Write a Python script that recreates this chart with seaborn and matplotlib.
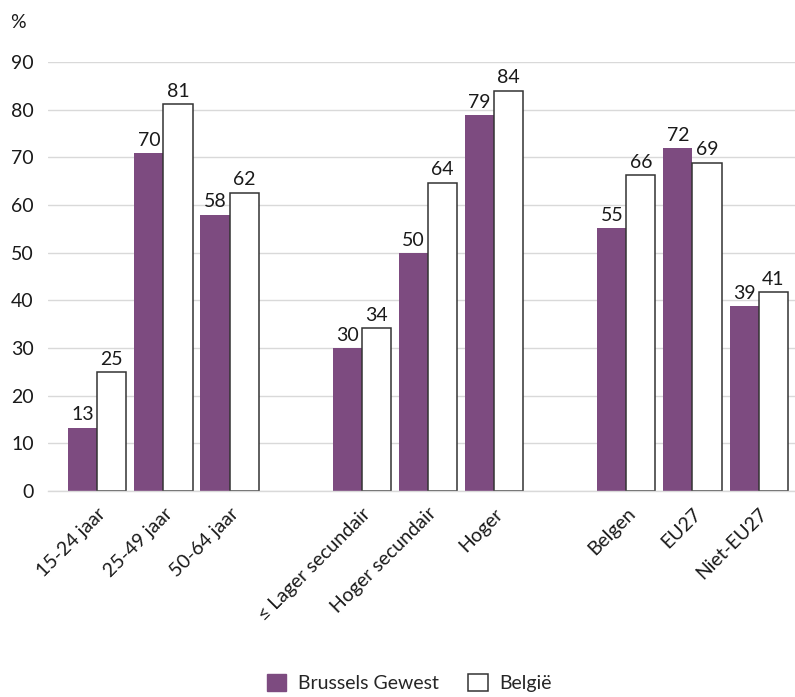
import matplotlib
matplotlib.use("Agg")
import matplotlib.pyplot as plt
import seaborn as sns
import pandas as pd
from matplotlib.patches import Patch

# ---- data ----
categories = ["15-24 jaar", "25-49 jaar", "50-64 jaar",
              "≤ Lager secundair", "Hoger secundair", "Hoger",
              "Belgen", "EU27", "Niet-EU27"]
slot_order = ["15-24 jaar", "25-49 jaar", "50-64 jaar", " ",
              "≤ Lager secundair", "Hoger secundair", "Hoger", "  ",
              "Belgen", "EU27", "Niet-EU27"]
brussels_values = [13.3, 70.9, 58.0, 30.0, 50.0, 78.8, 55.2, 72.0, 38.8]
belgie_values = [25.0, 81.1, 62.6, 34.2, 64.7, 84.0, 66.2, 68.9, 41.7]
brussels_labels = ["13", "70", "58", "30", "50", "79", "55", "72", "39"]
belgie_labels = ["25", "81", "62", "34", "64", "84", "66", "69", "41"]
series_names = ["Brussels Gewest", "België"]
y_ticks = [0, 10, 20, 30, 40, 50, 60, 70, 80, 90]

PURPLE = "#7D4B80"
FONT = ["Lato", "DejaVu Sans"]

df = pd.DataFrame({
    "cat": categories * 2,
    "val": brussels_values + belgie_values,
    "serie": [series_names[0]] * len(categories) + [series_names[1]] * len(categories),
})

sns.set_theme(style="white")
plt.rcParams["font.family"] = FONT

fig = plt.figure(figsize=(7.95, 6.97), dpi=100)
ax = fig.add_axes([0.060, 0.2955, 0.940, 0.6155])

sns.barplot(data=df, x="cat", y="val", hue="serie", order=slot_order,
            hue_order=series_names, palette=[PURPLE, "white"], width=0.88,
            ax=ax, legend=False, saturation=1, errorbar=None)

# style bars & labels
for ci, (cont, labs) in enumerate(zip(ax.containers, [brussels_labels, belgie_labels])):
    patches = sorted([p for p in cont if p.get_height() > 0], key=lambda p: p.get_x())
    for p, lab in zip(patches, labs):
        if ci == 0:
            p.set_edgecolor(PURPLE)
            p.set_linewidth(0)
        else:
            p.set_facecolor("white")
            p.set_edgecolor("#333333")
            p.set_linewidth(1.1)
        ax.annotate(lab, (p.get_x() + p.get_width() / 2, p.get_height()),
                    xytext=(0, 3), textcoords="offset points",
                    ha="center", va="bottom", fontsize=14, color="#1a1a1a",
                    annotation_clip=False)

ax.set_ylim(0, 90)
ax.set_xlim(-0.75, len(slot_order) - 0.45)
ax.set_yticks(y_ticks)
ax.set_yticklabels([str(t) for t in y_ticks], fontsize=14, color="#1a1a1a")
ax.yaxis.grid(True, color="#d9d9d9", linewidth=1)
ax.set_axisbelow(True)
ax.tick_params(axis="y", length=0, pad=10)

ax.set_xticks(range(len(slot_order)))
ax.set_xticklabels(slot_order, rotation=45, ha="right", rotation_mode="anchor",
                   fontsize=14, color="#1a1a1a")
ax.tick_params(axis="x", which="major", length=0, pad=10)
ax.set_xticks([i + 0.5 for i in range(len(slot_order) - 1)], minor=True)
ax.tick_params(axis="x", which="minor", length=8, color="#d9d9d9", width=1)

for s in ["left", "right", "top"]:
    ax.spines[s].set_visible(False)
ax.spines["bottom"].set_color("#d9d9d9")
ax.spines["bottom"].set_linewidth(1)
ax.set_xlabel("")
ax.set_ylabel("")

fig.text(0.013, 0.968, "%", fontsize=14, color="#1a1a1a", va="center", ha="left")

handles = [Patch(facecolor=PURPLE, edgecolor=PURPLE),
           Patch(facecolor="white", edgecolor="#333333", linewidth=1.1)]
fig.legend(handles, series_names, loc="center", bbox_to_anchor=(0.515, 0.02),
           ncol=2, frameon=False, fontsize=14, handlelength=1.0, handleheight=1.0,
           columnspacing=1.5, handletextpad=0.6)

fig.savefig("out.png", dpi=100)
